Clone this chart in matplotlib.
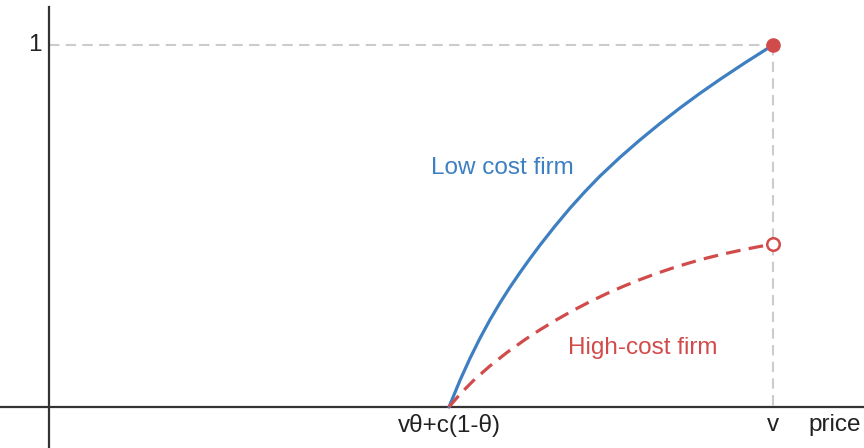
import matplotlib
matplotlib.use("Agg")
import matplotlib.pyplot as plt

plt.rcParams['font.family'] = ['Liberation Sans', 'DejaVu Sans']

# price axis: v = 1, lower end of the support vθ+c(1-θ) ~ 0.5525
P_LOW = 0.5525
V = 1.0

# cumulative probability of the low cost firm's price
low_x = [0.5525, 0.5677, 0.5815, 0.5953, 0.6091, 0.6229, 0.6367, 0.6506,
         0.6644, 0.6782, 0.6989, 0.7196, 0.7403, 0.7610, 0.7887, 0.8163,
         0.8439, 0.8715, 0.8992, 0.9268, 0.9613, 1.0]
low_y = [0.0, 0.0738, 0.1345, 0.1901, 0.2409, 0.2876, 0.3309, 0.3716,
         0.4102, 0.4472, 0.4997, 0.5492, 0.5950, 0.6378, 0.6898, 0.7378,
         0.7831, 0.8260, 0.8666, 0.9050, 0.9508, 1.0]

# cumulative probability of the high-cost firm's price
high_x = [0.5525, 0.5677, 0.5856, 0.6091, 0.6326, 0.6575, 0.6782, 0.7017,
          0.7238, 0.7472, 0.7707, 0.7928, 0.8163, 0.8398, 0.8619, 0.8854,
          0.9088, 0.9309, 0.9544, 0.9779, 1.0]
high_y = [0.0, 0.0354, 0.0718, 0.1135, 0.1506, 0.1862, 0.2133, 0.2417,
          0.2666, 0.2909, 0.3135, 0.3329, 0.3519, 0.3693, 0.3843, 0.3986,
          0.4116, 0.4224, 0.4326, 0.4420, 0.4500]

BLUE = '#3d7fc1'
RED = '#d24b4b'
GREY = '#cccccc'
AXIS = '#333333'

fig = plt.figure(figsize=(8.64, 4.48), dpi=100)
ax = fig.add_axes([0, 0, 1, 1])
ax.set_xlim(-0.0677, 1.1257)
ax.set_ylim(-0.1133, 1.1243)
ax.axis('off')

# axes through the origin
ax.plot([-0.0677, 1.1257], [0, 0], color=AXIS, lw=1.6, zorder=3)
ax.plot([0, 0], [-0.1133, 1.105], color=AXIS, lw=1.6, zorder=3)

# guide lines to (v, 1)
ax.plot([0, V], [1, 1], color=GREY, lw=1.5, dashes=(5, 3), zorder=1)
ax.plot([V, V], [1, 0], color=GREY, lw=1.5, dashes=(5, 3), zorder=1)

ax.plot(low_x, low_y, color=BLUE, lw=2.3, solid_capstyle='round',
        solid_joinstyle='round', zorder=4)
ax.plot(high_x, high_y, color=RED, lw=2.3, dashes=(4.6, 2.6),
        dash_joinstyle='round', zorder=4)

ax.plot([V], [low_y[-1]], 'o', ms=9.5, color=RED, zorder=6)
ax.plot([V], [high_y[-1]], 'o', ms=9, mfc='white', mec=RED, mew=1.8, zorder=6)

ax.text(-0.0097, 1.0, '1', fontsize=17.5, color='#222222', ha='right', va='center')
ax.text(P_LOW, -0.05, 'vθ+c(1-θ)', fontsize=17.5, color='#222222', ha='center', va='center')
ax.text(V, -0.05, 'v', fontsize=17.5, color='#222222', ha='center', va='center')
ax.text(1.0483, -0.05, 'price', fontsize=17.5, color='#222222', ha='left', va='center')

ax.text(0.5276, 0.660, 'Low cost firm', fontsize=17.5, color=BLUE, ha='left', va='center')
ax.text(0.7169, 0.163, 'High-cost firm', fontsize=17.5, color=RED, ha='left', va='center')

fig.savefig('out.png', dpi=100)
